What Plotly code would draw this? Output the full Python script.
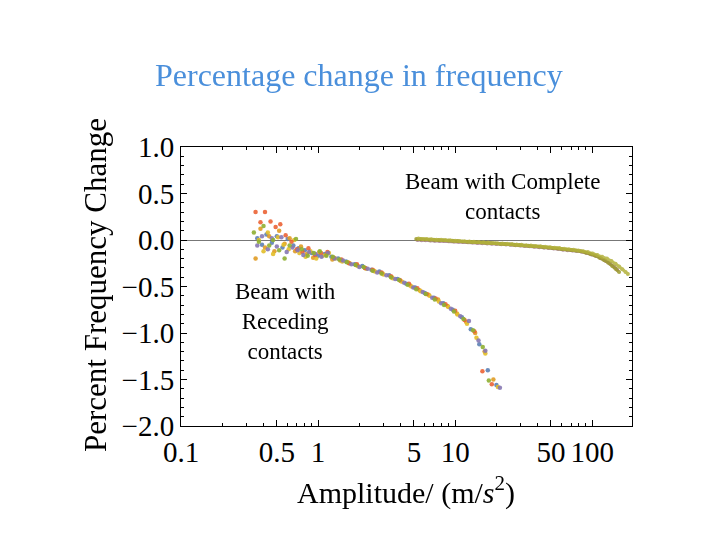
import plotly.graph_objects as go

# ---- Receding-contact series (amplitude m/s^2, percent change) ----
r1_amp = [0.36,0.39,0.42,0.46,0.5,0.55,0.6,0.66,0.72,0.8,0.9,1.0,1.12,1.25,1.4,1.6,1.85,2.1,2.45,2.8,3.3,3.8,4.4,5.1,6.0,7.0,8.2,9.6,11.2,13.0,15.0,17.3,20.0]
r1_val = [0.02,-0.05,0.06,-0.03,0.04,-0.08,0.01,-0.06,-0.09,-0.11,-0.14,-0.17,-0.15,-0.18,-0.2,-0.23,-0.26,-0.28,-0.32,-0.34,-0.38,-0.42,-0.47,-0.51,-0.57,-0.62,-0.68,-0.75,-0.83,-0.96,-1.12,-1.4,-1.56]

r2_amp = [0.35,0.38,0.41,0.44,0.48,0.52,0.57,0.62,0.68,0.75,0.83,0.92,1.02,1.14,1.27,1.45,1.65,1.9,2.2,2.55,2.95,3.45,4.0,4.7,5.5,6.4,7.5,8.8,10.3,12.0,14.0,16.4,19.0]
r2_val = [-0.2,0.12,-0.08,0.04,-0.12,0.1,-0.04,0.02,-0.12,-0.07,-0.15,-0.19,-0.13,-0.16,-0.21,-0.22,-0.24,-0.27,-0.3,-0.33,-0.36,-0.4,-0.44,-0.49,-0.54,-0.59,-0.64,-0.71,-0.79,-0.88,-1.0,-1.2,-1.5]

r3_amp = [0.37,0.4,0.43,0.47,0.51,0.56,0.61,0.67,0.73,0.81,0.88,0.97,1.08,1.2,1.33,1.5,1.7,1.95,2.25,2.6,3.0,3.5,4.1,4.8,5.6,6.5,7.6,8.9,10.4,12.2,14.3,16.6,20.5]
r3_val = [0.0,-0.12,0.08,-0.15,0.03,-0.05,-0.1,0.0,-0.14,-0.18,-0.12,-0.2,-0.17,-0.14,-0.2,-0.23,-0.25,-0.28,-0.31,-0.34,-0.37,-0.41,-0.45,-0.5,-0.55,-0.6,-0.66,-0.72,-0.8,-0.9,-1.05,-1.22,-1.58]

r4_amp = [0.35,0.41,0.38,0.45,0.49,0.53,0.58,0.64,0.7,0.77,0.85,0.95,1.05,1.17,1.3,1.48,1.68,1.92,2.2,2.5,2.9,3.4,3.95,4.6,5.3,6.2,7.2,8.5,10.0,11.7,13.8,15.8,18.5]
r4_val = [0.3,0.3,0.19,0.2,0.14,0.17,0.05,-0.02,-0.1,-0.13,-0.09,-0.16,-0.14,-0.13,-0.19,-0.21,-0.25,-0.26,-0.3,-0.32,-0.35,-0.39,-0.43,-0.47,-0.52,-0.58,-0.63,-0.69,-0.76,-0.86,-0.98,-1.41,-1.55]

r5_amp = [0.36,0.39,0.43,0.46,0.5,0.54,0.59,0.65,0.71,0.78,0.86,0.96,1.06,1.18,1.32,1.52,1.75,2.0,2.3,2.7,3.15,3.65,4.25,4.95,5.8,6.8,7.9,9.3,10.9,12.6,14.8,16.6,21.2]
r5_val = [-0.06,0.04,-0.1,0.02,-0.07,0.03,-0.13,-0.08,-0.11,-0.16,-0.13,-0.15,-0.18,-0.14,-0.2,-0.22,-0.26,-0.29,-0.31,-0.35,-0.38,-0.42,-0.46,-0.51,-0.56,-0.62,-0.68,-0.74,-0.82,-0.87,-1.08,-1.19,-1.59]

r6_amp = [0.34,0.37,0.4,0.44,0.47,0.52,0.57,0.62,0.69,0.76,0.84,0.93,1.03,1.15,1.28,1.43,1.62,1.88,2.15,2.5,2.9,3.4,3.9,4.5,5.2,6.1,7.1,8.3,9.8,11.5,13.5,15.9,17.6]
r6_val = [0.08,-0.02,0.15,-0.06,0.0,-0.11,-0.2,-0.06,0.01,-0.1,-0.17,-0.14,-0.12,-0.17,-0.18,-0.21,-0.24,-0.27,-0.29,-0.33,-0.36,-0.4,-0.43,-0.48,-0.53,-0.58,-0.64,-0.7,-0.77,-0.85,-0.97,-1.15,-1.51]

# ---- Complete-contact series ----
c1_amp = [5.2,5.6,6.0,6.5,7,7.6,8.2,8.9,9.6,10.4,11.3,12.2,13.2,14.3,15.5,16.8,18.2,19.7,21.3,23,25,27,29.3,31.7,34.3,37.2,40.3,43.6,47.2,51.1,55.3,59.9,64.9,70.2,76,82.3,89.1,96.5,104.5,113,122,131,140,148,157]
c1_val = [0.01,0.008,0.006,0.004,0.002,0.0,-0.003,-0.006,-0.009,-0.012,-0.015,-0.018,-0.021,-0.024,-0.027,-0.03,-0.033,-0.036,-0.039,-0.042,-0.046,-0.05,-0.054,-0.058,-0.062,-0.066,-0.07,-0.075,-0.08,-0.085,-0.09,-0.096,-0.103,-0.108,-0.114,-0.122,-0.134,-0.148,-0.167,-0.19,-0.215,-0.245,-0.28,-0.31,-0.345]

c2_amp = [5.4,5.8,6.2,6.7,7.3,7.9,8.5,9.2,10.0,10.8,11.7,12.7,13.7,14.9,16.1,17.4,18.9,20.4,22.1,24,26,28.1,30.5,33,35.7,38.7,41.9,45.4,49.2,53.2,57.6,62.4,67.6,73.2,79.3,85.9,93,100.7,109,118,128,138,148,157,166,175,182]
c2_val = [0.015,0.012,0.01,0.007,0.004,0.002,-0.001,-0.004,-0.007,-0.01,-0.013,-0.016,-0.019,-0.022,-0.025,-0.028,-0.031,-0.034,-0.037,-0.04,-0.044,-0.048,-0.052,-0.056,-0.06,-0.064,-0.068,-0.072,-0.077,-0.082,-0.087,-0.093,-0.099,-0.105,-0.112,-0.12,-0.13,-0.145,-0.162,-0.18,-0.2,-0.225,-0.255,-0.285,-0.315,-0.345,-0.365]

c3_amp = [5.3,5.7,6.1,6.6,7.1,7.7,8.3,9.0,9.8,10.6,11.5,12.4,13.4,14.6,15.8,17.1,18.5,20.0,21.7,23.5,25.5,27.6,29.9,32.4,35,37.9,41.1,44.5,48.2,52.2,56.5,61.2,66.3,71.8,77.7,84.1,91.1,98.6,106.8,115.6,125,135,145,152]
c3_val = [0.0,-0.002,-0.004,-0.006,-0.008,-0.01,-0.012,-0.014,-0.016,-0.019,-0.022,-0.025,-0.028,-0.031,-0.034,-0.037,-0.04,-0.043,-0.046,-0.049,-0.052,-0.056,-0.06,-0.064,-0.068,-0.072,-0.077,-0.082,-0.087,-0.092,-0.098,-0.104,-0.11,-0.114,-0.118,-0.127,-0.14,-0.155,-0.172,-0.195,-0.222,-0.255,-0.29,-0.32]

x_tickvals = [0.1, 0.5, 1, 5, 10, 50, 100]
x_ticktext = ["0.1", "0.5", "1", "5", "10", "50", "100"]
x_minor = [0.2,0.3,0.4,0.6,0.7,0.8,0.9,2,3,4,6,7,8,9,20,30,40,60,70,80,90,200]
y_tickvals = [1.0, 0.5, 0.0, -0.5, -1.0, -1.5, -2.0]
y_ticktext = ["1.0", "0.5", "0.0", "\u22120.5", "\u22121.0", "\u22121.5", "\u22122.0"]

receding = [
    (r1_amp, r1_val, "#5E81B5"),
    (r2_amp, r2_val, "#E19C24"),
    (r3_amp, r3_val, "#E3BE2A"),
    (r4_amp, r4_val, "#EB6235"),
    (r5_amp, r5_val, "#8778B3"),
    (r6_amp, r6_val, "#8FB032"),
]
complete = [
    (c3_amp, c3_val, "#A57C8C"),
    (c1_amp, c1_val, "#9C9A2C"),
    (c2_amp, c2_val, "#B3B23C"),
]

fig = go.Figure()
for a, v, col in complete:
    fig.add_trace(go.Scatter(x=a, y=v, mode="lines+markers",
                             line=dict(color=col, width=3),
                             marker=dict(color=col, size=4), opacity=0.85,
                             showlegend=False, hoverinfo="skip"))
for a, v, col in receding:
    fig.add_trace(go.Scatter(x=a, y=v, mode="markers",
                             marker=dict(color=col, size=4.5), opacity=0.9,
                             showlegend=False))

serif = "Liberation Serif, Times New Roman, serif"
L, R, T, B = 181, 88, 147, 114
PW, PH = 720 - L - R, 540 - T - B


def px(xp, yp):
    return (xp - L) / PW, (540 - B - yp) / PH


fig.update_layout(
    width=720, height=540,
    margin=dict(l=L, r=R, t=T, b=B),
    paper_bgcolor="white", plot_bgcolor="white",
    font=dict(family=serif, color="black"),
    xaxis=dict(type="log", range=[-1, 2.29], showgrid=False, zeroline=False,
               showline=True, linecolor="black", linewidth=1, mirror="allticks",
               ticks="inside", ticklen=6, tickcolor="black",
               tickvals=x_tickvals, ticktext=x_ticktext,
               tickfont=dict(family=serif, size=29),
               minor=dict(ticks="inside", ticklen=3, tickcolor="black",
                          tickvals=x_minor, showgrid=False)),
    yaxis=dict(range=[-2, 1], showgrid=False, zeroline=True, zerolinecolor="#777777",
               zerolinewidth=1,
               showline=True, linecolor="black", linewidth=1, mirror="allticks",
               ticks="inside", ticklen=6, tickcolor="black",
               tickvals=y_tickvals, ticktext=y_ticktext,
               tickfont=dict(family=serif, size=29),
               minor=dict(ticks="inside", ticklen=3, tickcolor="black",
                          dtick=0.1, showgrid=False)),
)

def ann(text, xp, yp, size, color="black", angle=0):
    x, y = px(xp, yp)
    return dict(text=text, xref="paper", yref="paper", x=x, y=y,
                xanchor="center", yanchor="middle", textangle=angle,
                showarrow=False, font=dict(family=serif, size=size, color=color))

annots = [
    ann("Percentage change in frequency", 359, 75, 32, "#4A8FDB"),
    ann("Percent Frequency Change", 95, 285, 31, angle=-90),
    ann("Amplitude/ (m/<i>s</i><sup>2</sup>)", 406, 490, 30),
    ann("Beam with Complete<br>contacts", 502, 196, 23),
    ann("Beam with<br>Receding<br>contacts", 285, 321, 23),
]
fig.update_layout(annotations=annots)

fig.write_html("out.html")
